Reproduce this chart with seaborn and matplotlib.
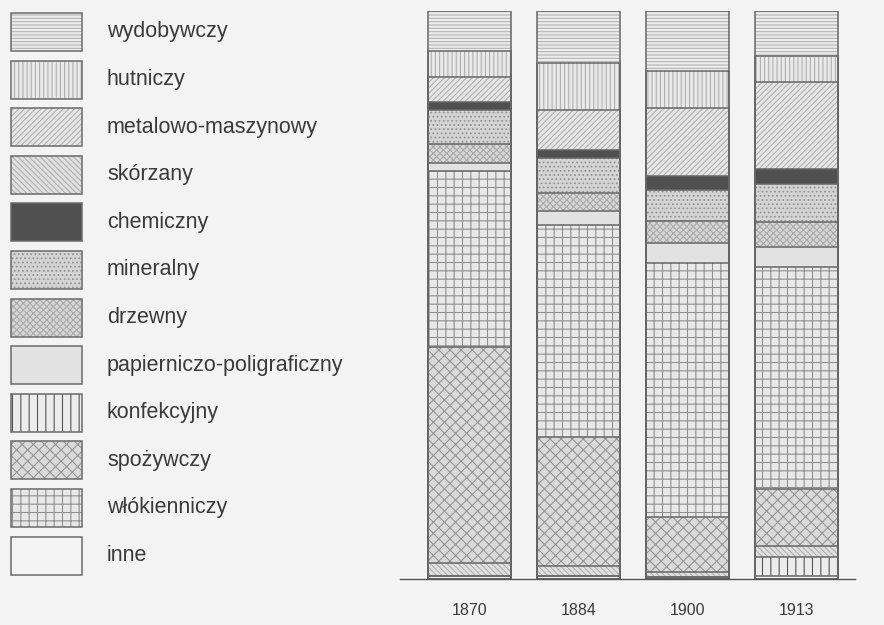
import matplotlib
matplotlib.use("Agg")
import matplotlib.pyplot as plt
from matplotlib.patches import Rectangle
import seaborn as sns
import numpy as np
import pandas as pd

years = ["1870", "1884", "1900", "1913"]
# legend order (top of legend to bottom)
legend_order = ["wydobywczy", "hutniczy", "metalowo-maszynowy", "skórzany", "chemiczny",
                "mineralny", "drzewny", "papierniczo-poligraficzny", "konfekcyjny",
                "spożywczy", "włókienniczy", "inne"]

# shares (%) per branch, per year
wydobywczy = [7.0, 9.2, 10.6, 7.9]
hutniczy = [4.6, 8.3, 6.5, 4.6]
metalowo = [4.4, 7.0, 12.0, 15.3]
skorzany = [2.3, 1.8, 0.9, 1.9]
chemiczny = [1.4, 1.4, 2.5, 2.6]
mineralny = [6.0, 6.2, 5.5, 6.7]
drzewny = [3.3, 3.2, 3.9, 4.4]
papier = [1.4, 2.5, 3.5, 3.5]
konfekcyjny = [0.0, 0.0, 0.0, 3.4]
spozywczy = [38.0, 22.7, 9.7, 10.1]
wlokienniczy = [31.1, 37.3, 44.7, 39.0]
inne = [0.5, 0.5, 0.4, 0.5]

values = {
    "wydobywczy": wydobywczy, "hutniczy": hutniczy, "metalowo-maszynowy": metalowo,
    "skórzany": skorzany, "chemiczny": chemiczny, "mineralny": mineralny,
    "drzewny": drzewny, "papierniczo-poligraficzny": papier, "konfekcyjny": konfekcyjny,
    "spożywczy": spozywczy, "włókienniczy": wlokienniczy, "inne": inne,
}
# stacking order from bottom up
stack_order = ["inne", "konfekcyjny", "skórzany", "spożywczy", "włókienniczy",
               "papierniczo-poligraficzny", "drzewny", "mineralny", "chemiczny",
               "metalowo-maszynowy", "hutniczy", "wydobywczy"]

styles = {
    "wydobywczy": ("#ececec", "-----", "#b4b4b4"),
    "hutniczy": ("#e9e9e9", "||||", "#b0b0b0"),
    "metalowo-maszynowy": ("#e6e6e6", "//////", "#b0b0b0"),
    "skórzany": ("#e0e0e0", "\\\\\\\\\\\\", "#b0b0b0"),
    "chemiczny": ("#505050", "", "#505050"),
    "mineralny": ("#d4d4d4", "....", "#949494"),
    "drzewny": ("#d6d6d6", "xxxxx", "#aaaaaa"),
    "papierniczo-poligraficzny": ("#e2e2e2", "", "#e2e2e2"),
    "konfekcyjny": ("#ececec", "||", "#555555"),
    "spożywczy": ("#dadada", "xxx", "#969696"),
    "włókienniczy": ("#e8e8e8", "++", "#909090"),
    "inne": ("#f4f4f4", "", "#f4f4f4"),
}

BG = "#f3f3f3"
sns.set_theme(style="white")
plt.rcParams["font.family"] = ["Liberation Sans", "DejaVu Sans"]
plt.rcParams["hatch.linewidth"] = 0.8

fig = plt.figure(figsize=(8.84, 6.25), dpi=100, facecolor=BG)

# legend axes in pixel coordinates
lax = fig.add_axes([0, 0, 1, 1])
lax.set_xlim(0, 884)
lax.set_ylim(625, 0)
lax.axis("off")
lax.set_facecolor(BG)
y0, dy = 32, 47.6
for i, name in enumerate(legend_order):
    fc, h, hc = styles[name]
    cy = y0 + i * dy
    lax.add_patch(Rectangle((11, cy - 19), 71, 38, facecolor=fc, hatch=h or None,
                            edgecolor=hc, linewidth=0))
    lax.add_patch(Rectangle((11, cy - 19), 71, 38, fill=False, edgecolor="#6a6a6a", linewidth=1.1))
    lax.text(107, cy, name, va="center", ha="left", fontsize=15.5, color="#3a3a3a")

# bar axes
ax = fig.add_axes([400 / 884, (625 - 579) / 625, 455 / 884, (579 - 11) / 625])
ax.patch.set_alpha(0)

df = pd.DataFrame(values, index=years)
cum = df[stack_order].cumsum(axis=1)
cum = cum.div(cum[stack_order[-1]], axis=0) * 100

# fills: tallest cumulative first
for name in reversed(stack_order):
    fc, h, hc = styles[name]
    n0 = len(ax.patches)
    sns.barplot(x=years, y=cum[name].values, order=years, color=fc, width=0.76,
                errorbar=None, ax=ax, saturation=1, edgecolor=hc, linewidth=0)
    for p in ax.patches[n0:]:
        p.set_facecolor(fc)
        if h:
            p.set_hatch(h)
        p.set_edgecolor(hc)
        p.set_linewidth(0)

# outlines
for name in reversed(stack_order):
    sns.barplot(x=years, y=cum[name].values, order=years, width=0.76, fill=False,
                errorbar=None, ax=ax, edgecolor="#666666", linewidth=1.1)

ax.set_xlim(-0.64, 3.54)
ax.set_ylim(0, 100)
ax.set_xlabel("")
ax.set_ylabel("")
ax.set_yticks([])
for s in ["top", "left", "right"]:
    ax.spines[s].set_visible(False)
ax.spines["bottom"].set_color("#555555")
ax.spines["bottom"].set_linewidth(1.0)
ax.tick_params(axis="x", length=0, pad=17, labelsize=11.5, labelcolor="#3a3a3a")

fig.savefig("out.png", dpi=100, facecolor=BG)
